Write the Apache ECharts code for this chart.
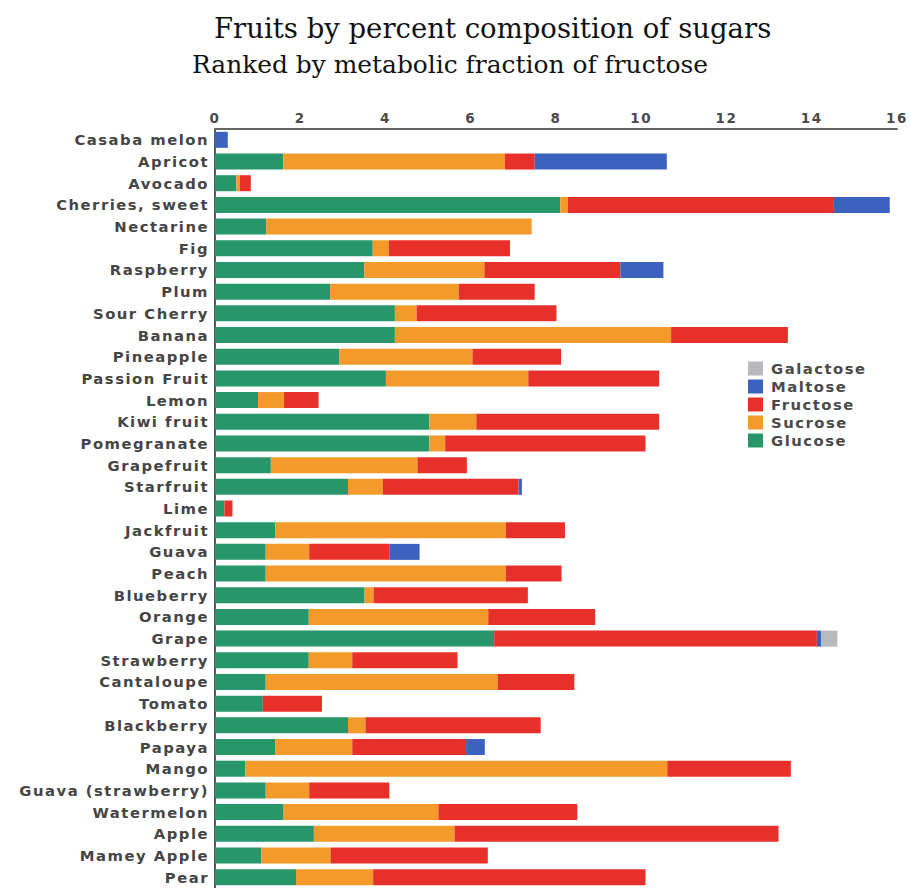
<!DOCTYPE html>
<html>
<head>
<meta charset="utf-8">
<script src="https://cdn.jsdelivr.net/npm/echarts@6/dist/echarts.min.js"></script>
<style>
  html, body { margin: 0; padding: 0; background: #fff; }
  /* the reference labels are wide and airy */
  #chart text[style*="DejaVu Sans"] { letter-spacing: 1.5px; }
</style>
</head>
<body>
<div id="chart" style="width: 911px;height: 888px;"></div>
<script>
var fruits = ['Casaba melon', 'Apricot', 'Avocado', 'Cherries, sweet', 'Nectarine', 'Fig', 'Raspberry', 'Plum',
  'Sour Cherry', 'Banana', 'Pineapple', 'Passion Fruit', 'Lemon', 'Kiwi fruit', 'Pomegranate', 'Grapefruit',
  'Starfruit', 'Lime', 'Jackfruit', 'Guava', 'Peach', 'Blueberry', 'Orange', 'Grape', 'Strawberry',
  'Cantaloupe', 'Tomato', 'Blackberry', 'Papaya', 'Mango', 'Guava (strawberry)', 'Watermelon', 'Apple',
  'Mamey Apple', 'Pear']

var glucose = [0, 1.6, 0.5, 8.1, 1.2, 3.7, 3.5, 2.7, 4.22, 4.22, 2.92, 4.01, 1.01, 5.03, 5.03, 1.31,
  3.12, 0.22, 1.41, 1.19, 1.19, 3.51, 2.2, 6.55, 2.2, 1.19, 1.12, 3.12, 1.41, 0.71, 1.19, 1.61, 2.32, 1.09, 1.9]
var sucrose = [0, 5.2, 0.08, 0.18, 6.23, 0.38, 2.82, 3.02, 0.51, 6.48, 3.12, 3.34, 0.61, 1.1, 0.37, 3.44,
  0.82, 0, 5.41, 1.02, 5.63, 0.21, 4.21, 0, 1.02, 5.44, 0, 0.41, 1.81, 9.9, 1.02, 3.63, 3.3, 1.62, 1.81]
var fructose = [0, 0.7, 0.26, 6.24, 0, 2.84, 3.19, 1.78, 3.28, 2.74, 2.08, 3.07, 0.81, 4.29, 4.7, 1.16,
  3.18, 0.19, 1.39, 1.88, 1.31, 3.62, 2.51, 7.57, 2.47, 1.8, 1.39, 4.11, 2.67, 2.9, 1.88, 3.26, 7.6, 3.69, 6.39]
var maltose = [0.3, 3.1, 0, 1.31, 0, 0, 1.01, 0, 0, 0, 0, 0, 0, 0, 0, 0,
  0.08, 0, 0, 0.71, 0, 0, 0, 0.1, 0, 0, 0, 0, 0.44, 0, 0, 0, 0, 0, 0]
var galactose = [0, 0, 0, 0, 0, 0, 0, 0, 0, 0, 0, 0, 0, 0, 0, 0,
  0, 0, 0, 0, 0, 0, 0, 0.38, 0, 0, 0, 0, 0, 0, 0, 0, 0, 0, 0]

var xTicks = [0, 2, 4, 6, 8, 10, 12, 14, 16]

function bar(name, data, color) {
  return {
    name: name,
    type: 'bar',
    stack: 'sugar',
    barWidth: 16,
    data: data,
    itemStyle: { color: color },
    emphasis: { disabled: true }
  }
}

var chart = echarts.init(document.getElementById('chart'), null, { renderer: 'svg' })
chart.setOption({
  animation: false,
  title: [{
    text: 'Fruits by percent composition of sugars',
    left: 214,
    top: 14,
    padding: 0,
    textStyle: { fontFamily: 'DejaVu Serif', fontSize: 27.5, fontWeight: 'normal', color: '#111' }
  }, {
    text: 'Ranked by metabolic fraction of fructose',
    left: 192,
    top: 52,
    padding: 0,
    textStyle: { fontFamily: 'DejaVu Serif', fontSize: 24.9, fontWeight: 'normal', color: '#111' }
  }],
  legend: {
    orient: 'vertical',
    left: 743,
    top: 356,
    itemWidth: 15,
    itemHeight: 14,
    itemGap: 3,
    icon: 'rect',
    data: ['Galactose', 'Maltose', 'Fructose', 'Sucrose', 'Glucose'],
    textStyle: { fontFamily: 'DejaVu Sans', fontWeight: 'bold', fontSize: 14.8, color: '#4a4a4a', padding: [0, 0, 0, 3] }
  },
  grid: {
    left: 215,
    right: 14,
    top: 129,
    bottom: 0
  },
  xAxis: {
    type: 'value',
    position: 'top',
    min: 0,
    max: 16,
    interval: 2,
    axisLine: { show: true, lineStyle: { color: '#666', width: 2 } },
    axisTick: { show: false },
    splitLine: { show: false },
    axisLabel: {
      margin: 4,
      fontFamily: 'DejaVu Sans',
      fontWeight: 'bold',
      fontSize: 13.5,
      color: '#4a4a4a',
      formatter: function (v) { return xTicks.indexOf(v) >= 0 ? v : '' }
    }
  },
  yAxis: {
    type: 'category',
    inverse: true,
    data: fruits,
    axisLine: { show: true, lineStyle: { color: '#222', width: 1.5 } },
    axisTick: { show: false },
    axisLabel: {
      margin: 6,
      fontFamily: 'DejaVu Sans',
      fontWeight: 'bold',
      fontSize: 14.8,
      color: '#454545'
    }
  },
  series: [
    bar('Glucose', glucose, '#27966b'),
    bar('Sucrose', sucrose, '#f39a2b'),
    bar('Fructose', fructose, '#e8302a'),
    bar('Maltose', maltose, '#3c62c0'),
    bar('Galactose', galactose, '#b9b9bd')
  ]
})
</script>
</body>
</html>
